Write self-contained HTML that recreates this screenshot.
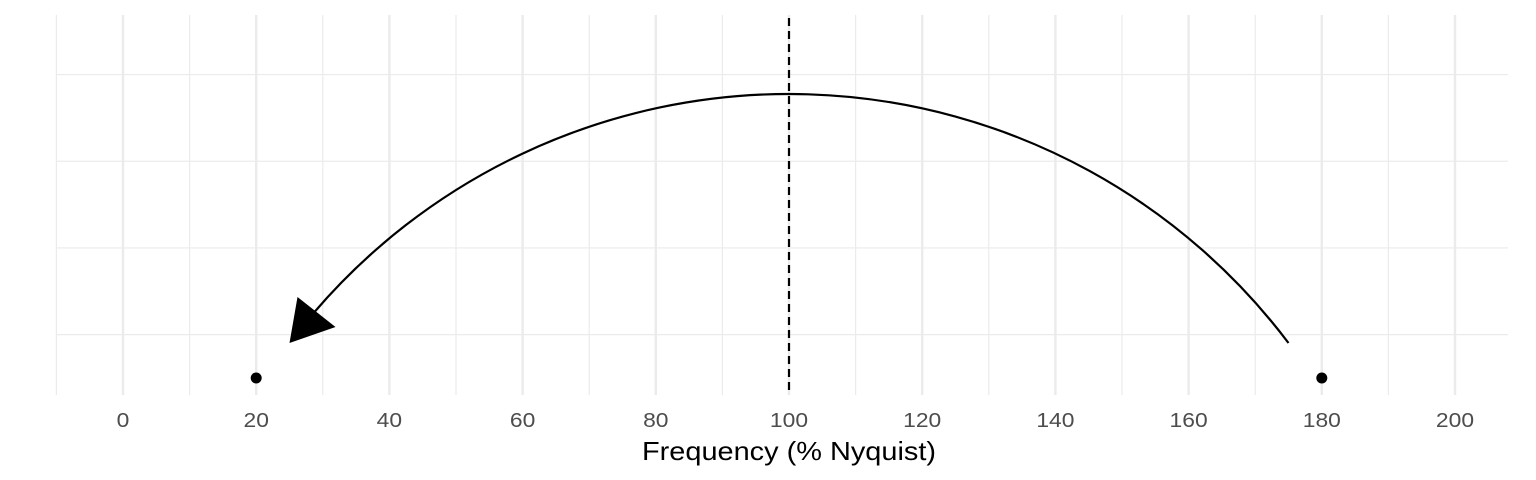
<!DOCTYPE html>
<html><head><meta charset="utf-8"><style>
html,body{margin:0;padding:0;background:#fff;}
svg{display:block;font-family:"Liberation Sans",sans-serif;}
</style></head><body>
<svg id="chart" width="1536" height="480"></svg>
<script>
const xTicks=[0,20,40,60,80,100,120,140,160,180,200];
const xMinor=[-10,10,30,50,70,90,110,130,150,170,190];
const pointsX=[20,180];
const vlineX=[100];
const curveStart=[175];
const curveEnd=[25];
const yGrid=[0.5,1.5,2.5,3.5];
const NS="http://www.w3.org/2000/svg";
const svg=document.getElementById('chart');
const X=v=>123+(v-0)*(1455-123)/200;
const Y=v=>378-v*86.7;
function mk(t,a,p){const e=document.createElementNS(NS,t);for(const k in a)e.setAttribute(k,a[k]);(p||svg).appendChild(e);return e;}
const grid=mk('g',{});


yGrid.forEach(v=>{const l=mk('line',{x1:57,x2:1508,y1:Y(v),y2:Y(v),stroke:'#ebebeb','stroke-width':1.2},grid);

});
xMinor.forEach(v=>{const l=mk('line',{x1:X(v),x2:X(v),y1:15,y2:395,stroke:'#ebebeb','stroke-width':1.2},grid);

});
xTicks.forEach(v=>{const l=mk('line',{x1:X(v),x2:X(v),y1:15,y2:395,stroke:'#ebebeb','stroke-width':2.4},grid);


const s=String(v);
const t=mk('text',{x:X(v),y:427,'text-anchor':'middle','font-size':20,fill:'#4d4d4d',textLength:s.length*12.7,lengthAdjust:'spacingAndGlyphs'});t.textContent=s;

});
vlineX.forEach(v=>{const l=mk('line',{x1:X(v),x2:X(v),y1:18,y2:395,stroke:'#000','stroke-width':2.2,'stroke-dasharray':'8,5'});

});
const sx=X(curveStart[0]),ex=X(curveEnd[0]),yb=343,peak=94;
const half=(sx-ex)/2,sag=yb-peak,R=(half*half+sag*sag)/(2*sag);
const cx=(sx+ex)/2,cy=peak+R;
function ptAt(x){return [x,cy-Math.sqrt(R*R-(x-cx)*(x-cx))];}
const lineEnd=ptAt(ex+24);
const arc=mk('path',{d:`M${sx},${yb} A${R},${R} 0 0 0 ${lineEnd[0]},${lineEnd[1]}`,fill:'none',stroke:'#000','stroke-width':2.2});


const tip=[ex,yb];
const head=mk('polygon',{points:`${tip[0]},${tip[1]} ${tip[0]+8},${tip[1]-46} ${tip[0]+46},${tip[1]-16}`,fill:'#000'});


pointsX.forEach(v=>{const c=mk('circle',{cx:X(v),cy:Y(0),r:5.5,fill:'#000'});

});
const tt=mk('text',{x:789,y:460,'text-anchor':'middle','font-size':26,fill:'#000',textLength:294,lengthAdjust:'spacingAndGlyphs'});tt.textContent='Frequency (% Nyquist)';


</script>
</body></html>
